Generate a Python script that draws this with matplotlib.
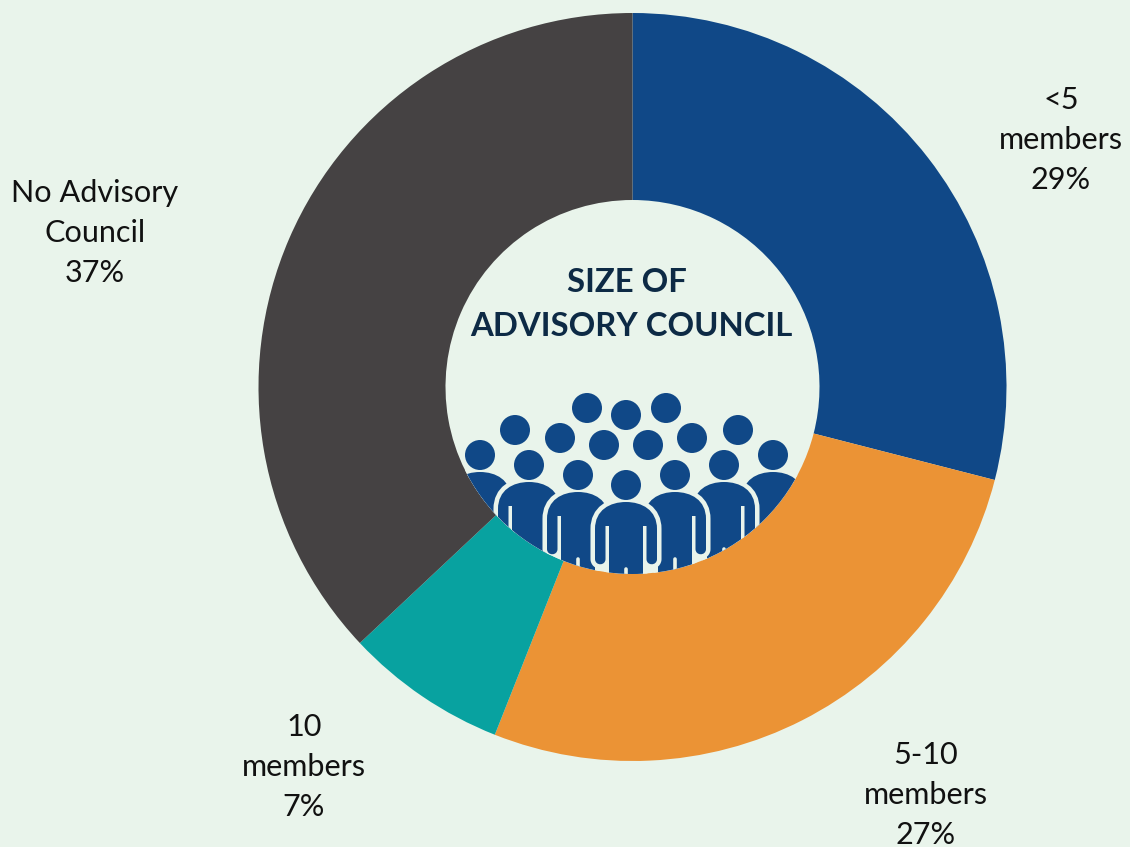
import matplotlib
matplotlib.use("Agg")
import matplotlib.pyplot as plt
from matplotlib.patches import Circle, PathPatch
from matplotlib.path import Path

W, H = 1130, 847
BG = "#E9F4EB"
BLUE = "#104887"

categories = ["<5\nmembers", "5-10\nmembers", "10\nmembers", "No Advisory\nCouncil"]
shares = [29, 27, 7, 37]
slice_colors = [BLUE, "#EB9335", "#08A2A0", "#454243"]
label_centers = [(1061, 140), (926, 795), (304, 767), (95, 233)]

# Crowd icon: heads without a visible body, then full figures from the outside in
loose_heads = [(515, 430), (560, 438), (604, 445), (587, 408), (626, 415),
               (666, 408), (648, 445), (692, 438), (738, 430)]
figures = [(480, 455), (773, 455), (529, 465), (724, 465), (578, 475), (675, 475), (626, 485)]

plt.rcParams["font.family"] = ["Lato", "DejaVu Sans"]
fig = plt.figure(figsize=(W / 100, H / 100), dpi=100, facecolor=BG)
ax = fig.add_axes([0, 0, 1, 1])


def Y(py):
    return H - py


CX, CY, R = 632.5, Y(387), 374
ax.pie(shares, colors=slice_colors, startangle=90, counterclock=False,
       center=(CX, CY), radius=R, frame=True,
       wedgeprops=dict(width=R / 2, linewidth=0))
ax.set_xlim(0, W)
ax.set_ylim(0, H)
ax.set_aspect("equal")
ax.axis("off")

for (lx, ly), cat, share in zip(label_centers, categories, shares):
    ax.text(lx, Y(ly), f"{cat}\n{share}%", ha="center", va="center",
            fontsize=22.1, color="#111111", linespacing=1.53)

ax.text(627, Y(282), "SIZE OF", ha="center", va="center", fontsize=23.7,
        fontweight="bold", color="#0D2A45")
ax.text(631, Y(326), "ADVISORY COUNCIL", ha="center", va="center", fontsize=23.7,
        fontweight="bold", color="#0D2A45")

clip = Circle((CX, CY), R / 2, transform=ax.transData)


def body_path(hx, hy):
    """Outline of a torso with two arms, hung below a head at (hx, hy)."""
    top = hy + 17
    arm_end = hy + 74
    slit_top = hy + 41
    pts = [
        (-31, top + 27), (-31, top + 8), (-16, top), (0, top),
        (16, top), (31, top + 8), (31, top + 27),
        (31, arm_end), (31, arm_end + 7), (20.5, arm_end + 7), (20.5, arm_end),
        (20.5, slit_top), (17, slit_top), (17, top + 130),
        (-17, top + 130), (-17, slit_top), (-20.5, slit_top),
        (-20.5, arm_end), (-20.5, arm_end + 7), (-31, arm_end + 7), (-31, arm_end),
        (-31, top + 27),
    ]
    codes = [Path.MOVETO, Path.CURVE4, Path.CURVE4, Path.CURVE4,
             Path.CURVE4, Path.CURVE4, Path.CURVE4,
             Path.LINETO, Path.CURVE4, Path.CURVE4, Path.CURVE4,
             Path.LINETO, Path.LINETO, Path.LINETO,
             Path.LINETO, Path.LINETO, Path.LINETO,
             Path.LINETO, Path.CURVE4, Path.CURVE4, Path.CURVE4,
             Path.CLOSEPOLY]
    return Path([(hx + dx, Y(py)) for dx, py in pts], codes)


for hx, hy in loose_heads:
    ax.add_patch(Circle((hx, Y(hy)), 15, fc=BLUE, ec="none", zorder=5))

zorder = 6
for hx, hy in figures:
    path = body_path(hx, hy)
    halo = PathPatch(path, fc=BG, ec=BG, lw=6.5, zorder=zorder, joinstyle="round")
    ax.add_patch(halo)
    halo.set_clip_path(clip)
    body = PathPatch(path, fc=BLUE, ec="none", zorder=zorder + 0.1)
    ax.add_patch(body)
    body.set_clip_path(clip)
    ax.add_patch(Circle((hx, Y(hy)), 15, fc=BLUE, ec="none", zorder=zorder + 0.2))
    leg_gap, = ax.plot([hx, hx], [Y(hy + 84), Y(hy + 130)], color=BG, lw=2.6,
                       solid_capstyle="round", zorder=zorder + 0.3)
    leg_gap.set_clip_path(clip)
    zorder += 1

fig.savefig("out.png", dpi=100, facecolor=BG)
